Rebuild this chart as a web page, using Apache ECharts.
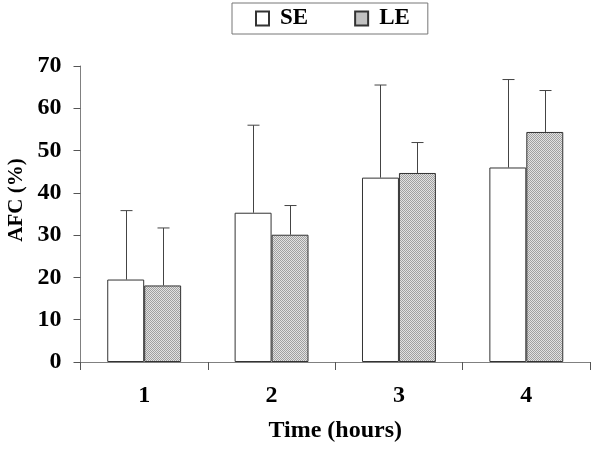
<!DOCTYPE html>
<html><head><meta charset="utf-8">
<script src="https://cdn.jsdelivr.net/npm/echarts@6/dist/echarts.min.js"></script>
<style>html,body{margin:0;padding:0;background:#fff}#c{width:600px;height:451px}</style>
</head><body><div id="c"></div>
<script>
const categories = ['1', '2', '3', '4'];
const seMeans = [19.5, 35.3, 43.6, 46.0];
const seUpper = [35.8, 56.0, 65.5, 66.8];
const leMeans = [18.1, 30.1, 44.7, 54.4];
const leUpper = [31.7, 37.0, 51.9, 64.2];
const yTicks = [0, 10, 20, 30, 40, 50, 60, 70];

const pc = document.createElement('canvas');
pc.width = 2; pc.height = 2;
const px = pc.getContext('2d');
px.fillStyle = '#e2e2e2'; px.fillRect(0,0,2,2);
px.fillStyle = '#a0a0a0'; px.fillRect(0,0,1,1); px.fillRect(1,1,1,1);
const pattern = {image: pc, repeat: 'repeat'};

const BW = 0.29;
function errSeries(means, upper, side) {
  return {
    type: 'custom',
    silent: true,
    z: 1,
    data: means.map((m, i) => [i, m, upper[i]]),
    renderItem: function (params, api) {
      const band = api.size([1, 0])[0];
      const off = side * band * BW / 2;
      const base = api.coord([api.value(0), api.value(1)]);
      const top = api.coord([api.value(0), api.value(2)]);
      const x = Math.round(base[0] + off) + 0.5;
      const cap = 6;
      return {
        type: 'group',
        children: [
          {type: 'line', shape: {x1: x, y1: base[1], x2: x, y2: top[1]}, style: {stroke: '#444', lineWidth: 1}},
          {type: 'line', shape: {x1: x - cap, y1: top[1], x2: x + cap, y2: top[1]}, style: {stroke: '#444', lineWidth: 1}}
        ]
      };
    }
  };
}

const font = 'Liberation Serif';
const chart = echarts.init(document.getElementById('c'));
chart.setOption({
  animation: false,
  grid: {left: 80.5, right: 10, top: 66, bottom: 89},
  legend: {
    top: 3, left: 232,
    data: ['SE', 'LE'],
    icon: 'rect', itemWidth: 13, itemHeight: 14, itemGap: 46,
    borderColor: '#777', borderWidth: 1,
    padding: [4, 18, 4, 23],
    textStyle: {fontFamily: font, fontWeight: 'bold', fontSize: 23, color: '#000', padding: [0, 0, 0, 6]}
  },
  graphic: [{
    type: 'text', x: 17, y: 200, rotation: Math.PI / 2,
    style: {text: 'AFC (%)', fontFamily: font, fontWeight: 'bold', fontSize: 21, fill: '#000',
      align: 'center', verticalAlign: 'middle'}
  }],
  xAxis: {
    type: 'category', data: categories,
    name: 'Time (hours)', nameLocation: 'middle', nameGap: 57,
    nameTextStyle: {fontFamily: font, fontWeight: 'bold', fontSize: 24, color: '#000'},
    axisLine: {lineStyle: {color: '#808080', width: 1}},
    axisTick: {show: true, length: 8, lineStyle: {color: '#555'}},
    axisLabel: {fontFamily: font, fontWeight: 'bold', fontSize: 24, color: '#000', margin: 22}
  },
  yAxis: {
    type: 'value', min: 0, max: 70, interval: 10,
    splitLine: {show: false},
    axisLine: {show: true, lineStyle: {color: '#808080', width: 1}},
    axisTick: {show: true, length: 7, lineStyle: {color: '#555'}},
    axisLabel: {fontFamily: font, fontWeight: 'bold', fontSize: 24, color: '#000', margin: 19,
      formatter: v => yTicks.includes(v) ? String(v) : ''}
  },
  series: [
    {name: 'SE', type: 'bar', data: seMeans, barWidth: (BW * 100) + '%', barGap: '0%', z: 2,
      itemStyle: {color: '#ffffff', borderColor: '#333', borderWidth: 1}},
    {name: 'LE', type: 'bar', data: leMeans, barWidth: (BW * 100) + '%', barGap: '0%', z: 2,
      itemStyle: {color: pattern, borderColor: '#333', borderWidth: 1}},
    errSeries(seMeans, seUpper, -1),
    errSeries(leMeans, leUpper, 1)
  ]
});
</script></body></html>
